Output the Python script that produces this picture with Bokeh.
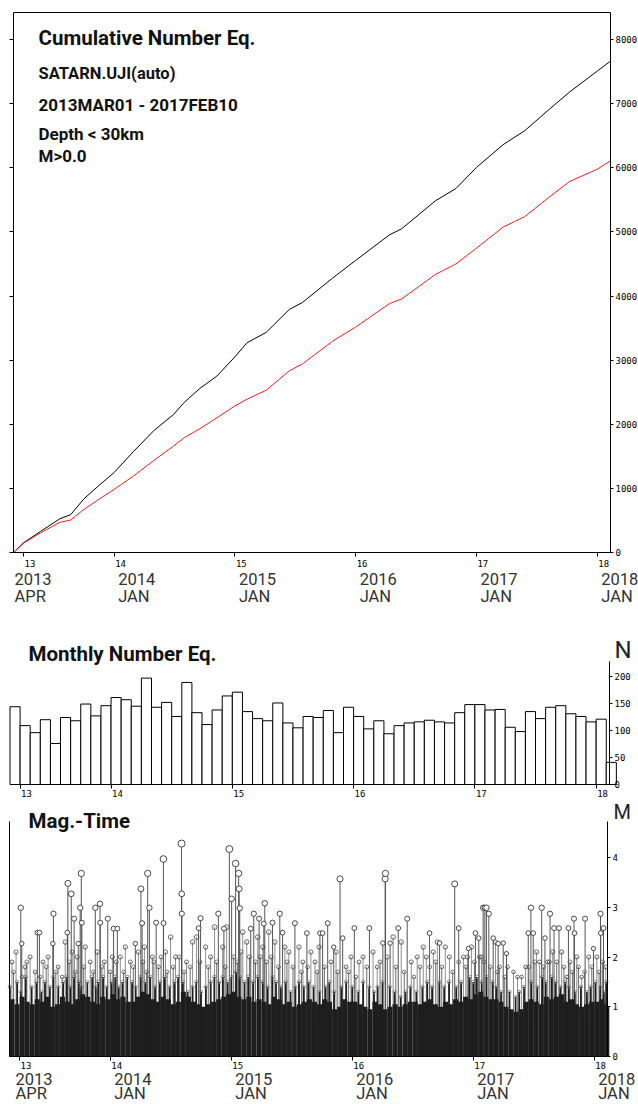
import pandas as pd
from bokeh.plotting import figure
from bokeh.models import Range1d, LinearAxis, FixedTicker
from bokeh.layouts import column
from bokeh.core.properties import value
from bokeh.embed import file_html
from bokeh.resources import INLINE

# ---------------------------------------------------------------- data
START = 2013 + 2 / 12      # 2013 MAR 01
END = 2018.11              # 2018 FEB 10

months = [f"{y}-{m:02d}" for y in range(2013, 2019) for m in range(1, 13)]
months = [m for m in months if "2013-03" <= m <= "2018-02"]

monthly_counts = [144, 109, 96, 120, 76, 124, 118, 149, 127, 146,
                  161, 157, 145, 197, 143, 152, 126, 189, 133, 111, 138, 164,
                  171, 135, 122, 118, 151, 114, 105, 126, 124, 137, 96, 143,
                  126, 103, 118, 94, 109, 114, 116, 119, 116, 114, 133, 148,
                  148, 138, 139, 106, 98, 135, 122, 143, 146, 131, 126, 116,
                  121, 41]

cum_t = [2013.167, 2013.25, 2013.39, 2013.55, 2013.64, 2013.75, 2013.88, 2014.0,
         2014.16, 2014.33, 2014.49, 2014.58, 2014.71, 2014.85, 2015.0, 2015.1,
         2015.26, 2015.45, 2015.56, 2015.81, 2016.0, 2016.28, 2016.38, 2016.66,
         2016.83, 2017.0, 2017.22, 2017.40, 2017.60, 2017.77, 2018.0, 2018.105]
cum_all = [0, 153, 328, 525, 590, 837, 1055, 1247, 1575, 1903, 2149, 2340, 2559,
           2750, 3051, 3270, 3434, 3789, 3900, 4281, 4555, 4954, 5047, 5484, 5676,
           6004, 6359, 6578, 6906, 7179, 7507, 7655]
cum_red = [0, 145, 306, 470, 508, 673, 837, 984, 1192, 1438, 1657, 1790, 1930,
           2100, 2286, 2390, 2532, 2832, 2942, 3297, 3516, 3882, 3953, 4336, 4500,
           4746, 5074, 5238, 5539, 5785, 5977, 6102]

x_ticks = [2013.25, 2014, 2015, 2016, 2017, 2018]
tick_short = ["13", "14", "15", "16", "17", "18"]
tick_year = ["2013", "2014", "2015", "2016", "2017", "2018"]
tick_month = ["APR", "JAN", "JAN", "JAN", "JAN", "JAN"]
cum_yticks = [0, 1000, 2000, 3000, 4000, 5000, 6000, 7000, 8000]
mon_yticks = [0, 50, 100, 150, 200]
mag_yticks = [0, 1, 2, 3, 4]

# top of the (nearly) solid black mass, per half month
env_half = [1.15, 1.05, 1.2, 1.1, 1.05, 1.15, 1.1, 1.2, 1.0, 1.05, 1.2, 1.1, 1.05, 1.15, 1.25, 1.2, 1.1, 1.05, 1.2, 1.15,
            1.25, 1.15, 1.2, 1.1, 1.1, 1.2, 1.3, 1.25, 1.15, 1.1, 1.2, 1.15, 1.05, 1.1, 1.3, 1.2, 1.1, 1.05, 1.0, 1.05, 1.1, 1.15, 1.2, 1.25,
            1.3, 1.2, 1.15, 1.2, 1.1, 1.15, 1.1, 1.05, 1.2, 1.15, 1.05, 1.1, 1.0, 1.05, 1.1, 1.15, 1.1, 1.05, 1.15, 1.1, 0.95, 1.0, 1.15, 1.1,
            1.1, 1.05, 1.0, 0.95, 1.1, 1.05, 0.95, 1.0, 1.05, 1.0, 1.05, 1.1, 1.1, 1.05, 1.1, 1.15, 1.05, 1.0, 1.1, 1.05, 1.15, 1.1, 1.2, 1.15,
            1.25, 1.3, 1.2, 1.15, 1.15, 1.1, 1.0, 0.95, 0.9, 0.95, 1.1, 1.15, 1.1, 1.05, 1.2, 1.15, 1.2, 1.25, 1.1, 1.15, 1.05, 1.0, 1.05, 1.1,
            1.1, 1.15, 1.05, 1.0]

big_t = [2013.260, 2013.268, 2013.397, 2013.414, 2013.525, 2013.530, 2013.645, 2013.649, 2013.677, 2013.701,
         2013.735, 2013.751, 2013.760, 2013.765, 2013.876, 2013.915, 2013.917, 2013.979, 2014.027, 2014.058,
         2014.207, 2014.253, 2014.263, 2014.309, 2014.323, 2014.379, 2014.439, 2014.440, 2014.589, 2014.590,
         2014.591, 2014.730, 2014.746, 2014.893, 2014.939, 2014.984, 2015.003, 2015.036, 2015.061, 2015.065,
         2015.070, 2015.161, 2015.186, 2015.230, 2015.269, 2015.277, 2015.341, 2015.401, 2015.424, 2015.526,
         2015.625, 2015.733, 2015.755, 2015.797, 2015.847, 2015.899, 2015.921, 2016.017, 2016.142, 2016.253,
         2016.272, 2016.275, 2016.313, 2016.380, 2016.454, 2016.639, 2016.722, 2016.847, 2016.880, 2016.960,
         2017.018, 2017.046, 2017.082, 2017.096, 2017.109, 2017.129, 2017.165, 2017.206, 2017.248, 2017.275,
         2017.455, 2017.477, 2017.496, 2017.566, 2017.593, 2017.635, 2017.668, 2017.709, 2017.787, 2017.833,
         2017.837, 2017.925, 2017.994, 2018.052, 2018.054, 2018.077]
big_m = [2.99, 2.27, 2.49, 2.49, 2.27, 2.87, 2.49, 3.48, 3.27, 2.77,
         2.27, 2.99, 3.68, 2.69, 2.99, 3.07, 2.69, 2.77, 2.57, 2.57,
         2.27, 3.37, 2.68, 3.68, 2.99, 2.69, 3.97, 2.68, 4.28, 3.27,
         2.87, 2.58, 2.78, 2.87, 2.57, 4.17, 3.17, 3.88, 3.68, 3.37,
         2.98, 2.57, 2.87, 2.77, 2.67, 3.08, 2.69, 2.87, 2.49, 2.68,
         2.48, 2.48, 2.48, 2.68, 2.20, 3.57, 2.38, 2.58, 2.58, 2.28,
         3.57, 3.68, 2.28, 2.58, 2.77, 2.48, 2.28, 3.47, 2.58, 2.17,
         2.48, 2.38, 2.99, 2.99, 2.99, 2.87, 2.38, 2.27, 2.28, 2.07,
         2.48, 2.99, 2.48, 2.99, 2.38, 2.87, 2.58, 2.58, 2.58, 2.77,
         2.48, 2.77, 2.17, 2.87, 2.48, 2.58]

mid_t = [2013.187, 2013.221, 2013.295, 2013.337, 2013.378, 2013.444, 2013.486, 2013.569, 2013.602, 2013.627,
         2013.685, 2013.726, 2013.793, 2013.834, 2013.892, 2013.950, 2014.017, 2014.083, 2014.124, 2014.166,
         2014.232, 2014.282, 2014.348, 2014.398, 2014.456, 2014.498, 2014.539, 2014.630, 2014.680, 2014.713,
         2014.788, 2014.829, 2014.862, 2014.929, 2014.962, 2015.095, 2015.128, 2015.219, 2015.260, 2015.310,
         2015.360, 2015.443, 2015.476, 2015.559, 2015.592, 2015.658, 2015.692, 2015.725, 2015.824, 2015.866,
         2015.949, 2015.990, 2016.056, 2016.090, 2016.172, 2016.206, 2016.338, 2016.405, 2016.488, 2016.537,
         2016.587, 2016.612, 2016.670, 2016.703, 2016.769, 2016.803, 2016.919, 2016.952, 2016.985, 2017.068,
         2017.184, 2017.217, 2017.284, 2017.333, 2017.366, 2017.400, 2017.433, 2017.524, 2017.549, 2017.615,
         2017.657, 2017.731, 2017.773, 2017.856, 2017.897, 2017.955, 2018.022, 2018.096]
mid_m = [1.9, 2.1, 1.8, 2.0, 1.7, 1.9, 2.0, 1.8, 1.6, 2.3,
         2.1, 2.0, 2.2, 1.9, 2.1, 1.9, 2.0, 2.0, 2.2, 1.9,
         2.1, 2.2, 2.0, 1.8, 2.1, 2.4, 2.0, 1.9, 2.3, 2.4,
         2.2, 2.0, 2.6, 2.2, 2.6, 2.5, 2.3, 2.4, 2.2, 2.5,
         2.3, 2.2, 2.1, 2.2, 1.9, 2.1, 1.9, 2.2, 1.9, 2.1,
         1.8, 2.0, 1.9, 2.0, 2.1, 1.8, 2.4, 2.3, 1.9, 2.0,
         2.2, 2.0, 2.1, 2.3, 2.2, 2.0, 2.0, 2.0, 2.2, 2.0,
         2.3, 1.8, 1.8, 1.7, 1.6, 1.6, 1.8, 2.1, 1.9, 1.9,
         2.1, 2.1, 1.6, 2.0, 1.6, 2.0, 2.0, 1.8]

fr_t = [2013.20, 2013.27, 2013.31, 2013.42, 2013.47, 2013.55, 2013.66, 2013.71, 2013.78, 2013.86,
        2013.93, 2014.00, 2014.05, 2014.11, 2014.19, 2014.27, 2014.30, 2014.36, 2014.42, 2014.47,
        2014.52, 2014.57, 2014.61, 2014.66, 2014.74, 2014.81, 2014.88, 2014.95, 2015.02, 2015.05,
        2015.08, 2015.15, 2015.20, 2015.24, 2015.29, 2015.33, 2015.39, 2015.46, 2015.51, 2015.58,
        2015.63, 2015.71, 2015.77, 2015.88, 2015.97, 2016.03, 2016.12, 2016.23, 2016.29, 2016.36,
        2016.43, 2016.51, 2016.56, 2016.64, 2016.69, 2016.74, 2016.83, 2016.88, 2016.94, 2017.01,
        2017.05, 2017.09, 2017.14, 2017.20, 2017.26, 2017.46, 2017.51, 2017.58, 2017.63, 2017.69,
        2017.75, 2017.80, 2017.82, 2017.87, 2017.92, 2017.98, 2018.04, 2018.07]
fr_m = [1.7, 1.6, 1.9, 1.6, 1.8, 1.7, 1.9, 1.7, 1.8, 1.7,
        1.8, 1.7, 1.9, 1.7, 1.8, 1.9, 1.7, 1.9, 2.0, 1.7,
        1.8, 2.0, 1.7, 1.8, 1.9, 1.8, 1.9, 1.8, 2.0, 1.9,
        2.1, 2.0, 1.9, 2.0, 1.9, 2.0, 1.8, 1.9, 1.8, 1.7,
        1.8, 1.7, 1.8, 1.7, 1.7, 1.6, 1.8, 1.9, 2.0, 1.8,
        1.7, 1.6, 1.8, 1.8, 1.9, 1.8, 1.7, 1.9, 1.8, 1.9,
        2.0, 1.9, 1.8, 1.7, 1.6, 1.8, 1.9, 1.8, 1.9, 1.9,
        1.8, 1.9, 1.7, 1.8, 1.7, 1.8, 1.7, 1.9]

low_t = [2013.17, 2013.23, 2013.26, 2013.30, 2013.35, 2013.39, 2013.43, 2013.46, 2013.50, 2013.53,
         2013.57, 2013.61, 2013.64, 2013.67, 2013.70, 2013.74, 2013.76, 2013.81, 2013.85, 2013.88,
         2013.90, 2013.94, 2013.97, 2014.01, 2014.04, 2014.07, 2014.10, 2014.14, 2014.18, 2014.21,
         2014.25, 2014.29, 2014.33, 2014.37, 2014.41, 2014.45, 2014.49, 2014.53, 2014.56, 2014.60,
         2014.64, 2014.68, 2014.71, 2014.75, 2014.79, 2014.83, 2014.86, 2014.90, 2014.93, 2014.97,
         2015.00, 2015.04, 2015.07, 2015.11, 2015.14, 2015.18, 2015.22, 2015.26, 2015.30, 2015.34,
         2015.37, 2015.41, 2015.45, 2015.49, 2015.53, 2015.56, 2015.60, 2015.64, 2015.68, 2015.73,
         2015.78, 2015.81, 2015.85, 2015.91, 2015.95, 2016.00, 2016.05, 2016.09, 2016.14, 2016.18,
         2016.21, 2016.25, 2016.31, 2016.35, 2016.40, 2016.44, 2016.48, 2016.53, 2016.58, 2016.62,
         2016.66, 2016.72, 2016.76, 2016.80, 2016.86, 2016.90, 2016.97, 2017.00, 2017.03, 2017.07,
         2017.11, 2017.16, 2017.19, 2017.23, 2017.30, 2017.35, 2017.38, 2017.42, 2017.48, 2017.53,
         2017.57, 2017.60, 2017.65, 2017.68, 2017.72, 2017.76, 2017.79, 2017.84, 2017.89, 2017.94,
         2017.97, 2018.01, 2018.05, 2018.08, 2018.10]
low_m = [1.4, 1.5, 1.3, 1.6, 1.4, 1.5, 1.3, 1.5, 1.4, 1.6,
         1.4, 1.5, 1.6, 1.4, 1.6, 1.5, 1.4, 1.5, 1.6, 1.4,
         1.5, 1.6, 1.4, 1.5, 1.6, 1.4, 1.5, 1.6, 1.5, 1.4,
         1.6, 1.5, 1.6, 1.4, 1.5, 1.6, 1.4, 1.5, 1.6, 1.5,
         1.3, 1.4, 1.5, 1.3, 1.4, 1.5, 1.6, 1.5, 1.6, 1.5,
         1.6, 1.7, 1.6, 1.5, 1.6, 1.5, 1.6, 1.5, 1.4, 1.6,
         1.5, 1.4, 1.5, 1.3, 1.4, 1.5, 1.4, 1.5, 1.4, 1.3,
         1.4, 1.5, 1.3, 1.4, 1.5, 1.4, 1.3, 1.5, 1.4, 1.3,
         1.4, 1.5, 1.4, 1.3, 1.2, 1.3, 1.4, 1.3, 1.4, 1.5,
         1.4, 1.5, 1.4, 1.5, 1.4, 1.5, 1.6, 1.5, 1.6, 1.5,
         1.6, 1.5, 1.4, 1.3, 1.3, 1.2, 1.3, 1.4, 1.5, 1.4,
         1.6, 1.5, 1.6, 1.5, 1.4, 1.5, 1.4, 1.3, 1.4, 1.3,
         1.4, 1.5, 1.4, 1.3, 1.5]

# ---------------------------------------------------------------- helpers
SANS = "Roboto"
MONO = "DejaVu Sans Mono"
W = 638
BASE_FIX = 0.38   # measured drop of rendered text below the requested baseline (em)


def make_fig(H, fx0, fx1, fy_lo, fy_hi, ylo, yhi):
    """fx0/fx1: canvas px of START/END; fy_lo/fy_hi: canvas px of ylo/yhi."""
    ppx = (fx1 - fx0) / (END - START)
    ppy = (fy_lo - fy_hi) / (yhi - ylo)
    xr = Range1d(START - fx0 / ppx, START + (W - fx0) / ppx)
    yr = Range1d(ylo - (H - fy_lo) / ppy, ylo + fy_lo / ppy)
    p = figure(width=W, height=H, x_range=xr, y_range=yr, x_axis_type=None, y_axis_type=None,
               toolbar_location=None, tools="", output_backend="svg", min_border=0,
               title_location=None, outline_line_color=None)
    p.background_fill_color = "white"
    p.border_fill_color = "white"
    return p


def add_axis(p, side, loc, bounds, ticks, tick_out=0, labels=False, line=True):
    ax = LinearAxis(fixed_location=loc, bounds=bounds, ticker=FixedTicker(ticks=ticks, minor_ticks=[]))
    ax.major_tick_out = tick_out
    ax.major_tick_in = 0
    ax.minor_tick_out = 0
    ax.minor_tick_in = 0
    ax.major_tick_line_color = "black" if tick_out else None
    ax.axis_line_color = "black" if line else None
    ax.axis_line_width = 1
    if labels:
        ax.major_label_text_font = MONO
        ax.major_label_text_font_size = "9px"
        ax.major_label_text_color = "black"
        ax.major_label_standoff = 2
    else:
        ax.major_label_text_color = None
    p.add_layout(ax, side)
    return ax


def put(p, H, cx, cy, texts, size, font=SANS, style="normal", align="left", color="#111111"):
    xr, yr = p.x_range, p.y_range
    xs = [xr.start + c * (xr.end - xr.start) / W for c in cx]
    ys = [yr.end - (c - BASE_FIX * size) * (yr.end - yr.start) / H for c in cy]
    p.text(x=xs, y=ys, text=texts, text_font=value(font), text_font_size=f"{size}px",
           text_font_style=style, text_align=align, text_baseline="alphabetic", text_color=color)


def canvas_x(p, x):
    xr = p.x_range
    return (x - xr.start) / (xr.end - xr.start) * W


def tick_labels(p, H, y_small, y_year=None, y_month=None, first_px=None):
    cx_t = [canvas_x(p, t) for t in x_ticks]
    put(p, H, [c + 1 for c in cx_t], [y_small] * 6, tick_short, 9, font=MONO, color="black")
    if y_year is not None:
        cx_l = [first_px] + [c + 4 for c in cx_t[1:]]
        put(p, H, cx_l, [y_year] * 6, tick_year, 16.5, color="#333333")
        put(p, H, cx_l, [y_month] * 6, tick_month, 16.5, color="#333333")


# ---------------------------------------------------------------- 1: cumulative  (page y 0..620)
H1 = 620
CUM_TOP = 8415
p1 = make_fig(H1, 13, 610, 552, 39, 0, 8000)
p1.line(cum_t, cum_all, color="black", line_width=1)
p1.line(cum_t, cum_red, color="#ff1a1a", line_width=1)
add_axis(p1, "left", START, (0, CUM_TOP), cum_yticks, tick_out=4)
add_axis(p1, "right", END, (0, CUM_TOP), cum_yticks, tick_out=3, labels=True)
add_axis(p1, "below", 0, (START, END), x_ticks, tick_out=4)
add_axis(p1, "above", CUM_TOP, (START, END), [])
put(p1, H1, [38], [45], ["Cumulative Number Eq."], 20.5, style="bold")
put(p1, H1, [38], [79.3], ["SATARN.UJI(auto)"], 16.5, style="bold")
put(p1, H1, [38], [110.7], ["2013MAR01 - 2017FEB10"], 17, style="bold")
put(p1, H1, [38], [140.3], ["Depth < 30km"], 17, style="bold")
put(p1, H1, [38], [162.3], ["M>0.0"], 17, style="bold")
tick_labels(p1, H1, 566.0, 585.0, 602.0, first_px=14)

# ---------------------------------------------------------------- 2: monthly  (page y 620..800)
H2 = 180
MON_TOP = 227
p2 = make_fig(H2, 9.5, 609, 164, 56, 0, 200)
m_left = [int(m[:4]) + (int(m[5:]) - 1) / 12 for m in months]
m_right = [v + 1 / 12 for v in m_left]
p2.quad(left=m_left, right=m_right, bottom=0, top=monthly_counts,
        fill_color="white", line_color="black", line_width=1)
add_axis(p2, "right", END, (0, MON_TOP), mon_yticks, tick_out=3, labels=True)
add_axis(p2, "below", 0, (START, END), x_ticks, tick_out=4)
put(p2, H2, [28], [41], ["Monthly Number Eq."], 20.5, style="bold")
put(p2, H2, [631], [39], ["N"], 24, align="right", color="#222222")
tick_labels(p2, H2, 176.5)

# ---------------------------------------------------------------- 3: magnitude-time  (page y 800..1104)
H3 = 304
MAG_TOP = 4.72
p3 = make_fig(H3, 9, 607, 256, 57, 0, 4)
h_left, h_right = [], []
for s in m_left:
    h_left += [s, s + 1 / 24]
    h_right += [min(s + 1 / 24, END), min(s + 1 / 12, END)]
p3.segment(x0=big_t, y0=0, x1=big_t, y1=big_m, line_color="#555555", line_width=1)
p3.segment(x0=mid_t, y0=0, x1=mid_t, y1=mid_m, line_color="#8f8f8f", line_width=1)
p3.segment(x0=fr_t, y0=0, x1=fr_t, y1=fr_m, line_color="#6e6e6e", line_width=1)
p3.quad(left=h_left, right=h_right, bottom=0, top=env_half, fill_color="#1e1e1e", line_color=None)
p3.segment(x0=low_t, y0=0, x1=low_t, y1=low_m, line_color="#1e1e1e", line_width=1.8)
p3.scatter(low_t, low_m, size=[1.5 + 1.3 * m for m in low_m], marker="circle",
           fill_color=None, line_color="#777777", line_width=0.8)
p3.scatter(fr_t, fr_m, size=[1.5 + 1.3 * m for m in fr_m], marker="circle",
           fill_color=None, line_color="#555555", line_width=0.8)
p3.scatter(mid_t, mid_m, size=[1.5 + 1.3 * m for m in mid_m], marker="circle",
           fill_color=None, line_color="#444444", line_width=0.8)
p3.scatter(big_t, big_m, size=[1.5 + 1.3 * m for m in big_m], marker="circle",
           fill_color="white", line_color="#333333", line_width=0.9)
add_axis(p3, "left", START, (0, MAG_TOP), [])
add_axis(p3, "right", END, (0, MAG_TOP), mag_yticks, tick_out=3, labels=True)
add_axis(p3, "below", 0, (START, END), x_ticks, tick_out=4)
put(p3, H3, [28], [28], ["Mag.-Time"], 20.5, style="bold")
put(p3, H3, [613], [19.5], ["M"], 20, color="#222222")
tick_labels(p3, H3, 268.5, 285.0, 299.5, first_px=15)

layout = column(p1, p2, p3, spacing=0)
open("out.html", "w").write(file_html(layout, INLINE))
